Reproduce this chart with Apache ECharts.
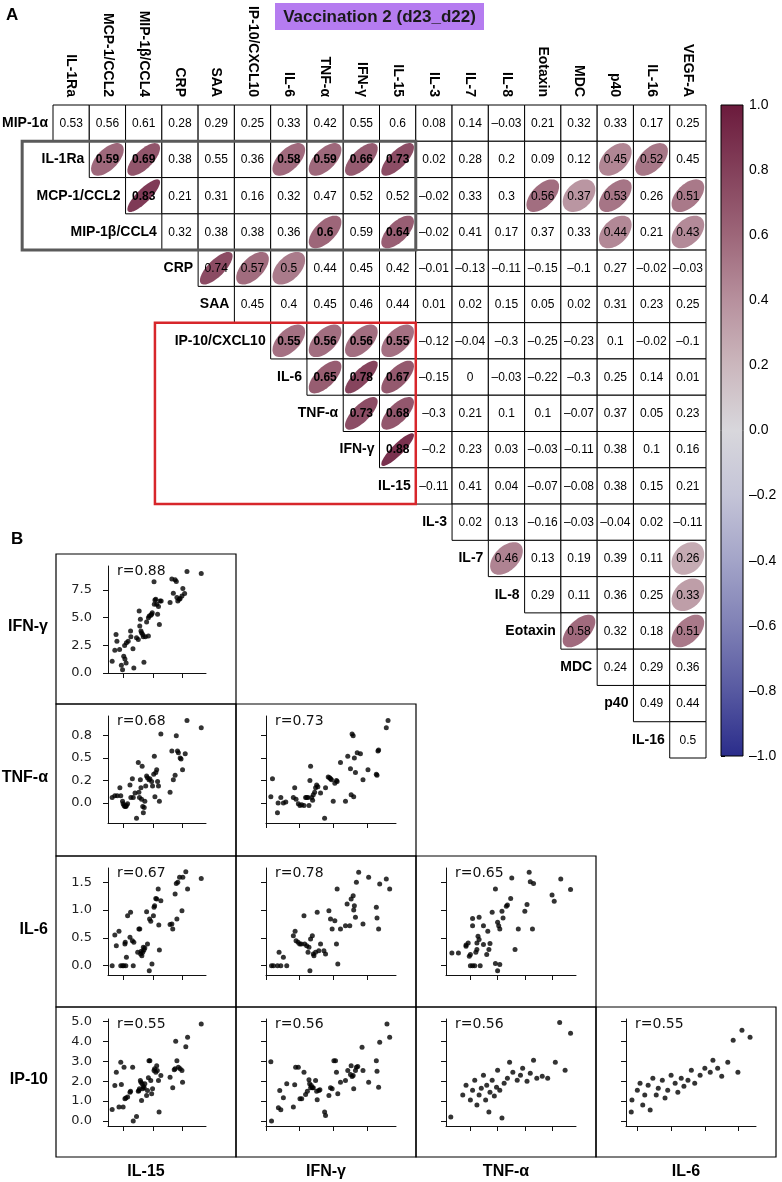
<!DOCTYPE html>
<html><head><meta charset="utf-8">
<script src="https://cdn.jsdelivr.net/npm/echarts@6/dist/echarts.min.js"></script>
<style>html,body{margin:0;padding:0;background:#fff}#c{width:782px;height:1182px}</style>
</head><body><div id="c"></div>
<script>
// ---------------- Panel A data ----------------
const rowLabels = ['MIP-1α','IL-1Ra','MCP-1/CCL2','MIP-1β/CCL4','CRP','SAA','IP-10/CXCL10','IL-6','TNF-α','IFN-γ','IL-15','IL-3','IL-7','IL-8','Eotaxin','MDC','p40','IL-16'];
const colLabels = ['IL-1Ra','MCP-1/CCL2','MIP-1β/CCL4','CRP','SAA','IP-10/CXCL10','IL-6','TNF-α','IFN-γ','IL-15','IL-3','IL-7','IL-8','Eotaxin','MDC','p40','IL-16','VEGF-A'];
const row_MIP1a   = [0.53,0.56,0.61,0.28,0.29,0.25,0.33,0.42,0.55,0.6,0.08,0.14,-0.03,0.21,0.32,0.33,0.17,0.25];
const row_IL1Ra   = [0.59,0.69,0.38,0.55,0.36,0.58,0.59,0.66,0.73,0.02,0.28,0.2,0.09,0.12,0.45,0.52,0.45];
const row_MCP1    = [0.83,0.21,0.31,0.16,0.32,0.47,0.52,0.52,-0.02,0.33,0.3,0.56,0.37,0.53,0.26,0.51];
const row_MIP1b   = [0.32,0.38,0.38,0.36,0.6,0.59,0.64,-0.02,0.41,0.17,0.37,0.33,0.44,0.21,0.43];
const row_CRP     = [0.74,0.57,0.5,0.44,0.45,0.42,-0.01,-0.13,-0.11,-0.15,-0.1,0.27,-0.02,-0.03];
const row_SAA     = [0.45,0.4,0.45,0.46,0.44,0.01,0.02,0.15,0.05,0.02,0.31,0.23,0.25];
const row_IP10    = [0.55,0.56,0.56,0.55,-0.12,-0.04,-0.3,-0.25,-0.23,0.1,-0.02,-0.1];
const row_IL6     = [0.65,0.78,0.67,-0.15,0,-0.03,-0.22,-0.3,0.25,0.14,0.01];
const row_TNF     = [0.73,0.68,-0.3,0.21,0.1,0.1,-0.07,0.37,0.05,0.23];
const row_IFN     = [0.88,-0.2,0.23,0.03,-0.03,-0.11,0.38,0.1,0.16];
const row_IL15    = [-0.11,0.41,0.04,-0.07,-0.08,0.38,0.15,0.21];
const row_IL3     = [0.02,0.13,-0.16,-0.03,-0.04,0.02,-0.11];
const row_IL7     = [0.46,0.13,0.19,0.39,0.11,0.26];
const row_IL8     = [0.29,0.11,0.36,0.25,0.33];
const row_Eotaxin = [0.58,0.32,0.18,0.51];
const row_MDC     = [0.24,0.29,0.36];
const row_p40     = [0.49,0.44];
const row_IL16    = [0.5];
const corrRows = [row_MIP1a,row_IL1Ra,row_MCP1,row_MIP1b,row_CRP,row_SAA,row_IP10,row_IL6,row_TNF,row_IFN,row_IL15,row_IL3,row_IL7,row_IL8,row_Eotaxin,row_MDC,row_p40,row_IL16];
// significant cells [row, col] drawn with an ellipse
const sigCells = [[1,1],[1,2],[1,6],[1,7],[1,8],[1,9],[1,15],[1,16],
  [2,2],[2,13],[2,14],[2,15],[2,17],
  [3,7],[3,9],[3,15],[3,17],
  [4,4],[4,5],[4,6],
  [6,6],[6,7],[6,8],[6,9],[7,7],[7,8],[7,9],[8,8],[8,9],[9,9],
  [12,12],[12,17],[13,17],[14,14],[14,17]];
// highlight boxes [colFrom,rowFrom,colTo,rowTo] in cell units
const boxGray = [-1.35,0.5,9.5,3.5];
const boxRed  = [2.31,5.5,9.5,10.5];
const colorbarStops = [[1.0,'#6b1a3c'],[0.8,'#83405a'],[0.6,'#9d6679'],[0.4,'#b7909d'],[0.2,'#cbb7bd'],[0.0,'#d8d7dc'],[-0.2,'#c4c4d7'],[-0.4,'#a3a4c8'],[-0.6,'#7f80b5'],[-0.8,'#5759a1'],[-1.0,'#2a2c8b']];

// ---------------- Panel B data ----------------
const ifn_vs_il15 = [[0.63,1.06],[0.72,2.06],[0.76,3.48],[0.79,2.87],[0.88,2.12],[0.94,0.70],[0.98,0.30],[1.02,1.51],[1.06,1.27],[1.05,2.48],[1.10,0.91],[1.11,2.72],[1.17,2.87],[1.25,3.78],[1.26,3.27],[1.33,2.18],[1.36,0.45],[1.45,3.18],[1.51,3.02],[1.54,5.59],[1.56,4.23],[1.58,4.84],[1.60,3.78],[1.62,3.63],[1.66,3.48],[1.68,3.27],[1.70,0.97],[1.75,3.27],[1.79,4.60],[1.85,3.33],[1.85,4.99],[1.88,5.14],[1.93,5.20],[1.96,5.29],[1.98,5.44],[2.04,8.22],[2.05,6.20],[2.07,6.59],[2.10,6.65],[2.13,6.20],[2.16,5.29],[2.19,5.99],[2.22,4.38],[2.24,6.50],[2.28,6.50],[2.58,6.35],[2.64,8.47],[2.69,7.20],[2.75,8.41],[2.79,8.26],[2.81,6.80],[2.84,6.50],[2.89,6.65],[2.92,6.71],[2.98,6.95],[3.01,7.62],[3.07,7.17],[3.15,9.16],[3.63,8.98]];
const tnf_vs_il15 = [[0.63,0.06],[0.72,0.08],[0.80,0.08],[0.89,0.17],[0.92,0.08],[0.98,0.02],[1.00,-0.01],[1.03,-0.03],[1.06,-0.04],[1.09,-0.04],[1.11,-0.03],[1.15,-0.01],[1.23,0.20],[1.26,0.06],[1.31,0.27],[1.34,0.06],[1.40,0.11],[1.45,-0.17],[1.51,0.45],[1.53,0.12],[1.55,0.06],[1.58,0.26],[1.60,0.17],[1.62,0.04],[1.64,0.41],[1.66,-0.04],[1.68,-0.11],[1.71,-0.05],[1.73,0.02],[1.76,0.19],[1.79,0.30],[1.82,0.28],[1.87,0.26],[1.90,0.27],[1.96,0.24],[1.99,0.19],[2.03,0.32],[2.05,0.52],[2.07,0.07],[2.10,0.34],[2.13,0.37],[2.16,0.24],[2.19,0.19],[2.22,0.02],[2.27,0.77],[2.58,0.12],[2.64,0.58],[2.69,0.26],[2.75,0.31],[2.79,0.75],[2.83,0.58],[2.86,0.56],[2.92,0.50],[2.95,0.49],[3.00,0.37],[3.09,0.55],[3.15,0.92],[3.63,0.84]];
const tnf_vs_ifn = [[0.36,0.07],[0.48,0.27],[0.85,-0.11],[0.90,0.00],[1.10,0.06],[1.29,0.00],[1.47,0.01],[2.03,0.06],[2.13,0.17],[2.23,0.04],[2.40,-0.01],[2.52,-0.03],[2.65,-0.02],[2.82,-0.03],[2.94,0.06],[3.02,0.06],[3.12,0.06],[3.19,-0.03],[3.26,0.25],[3.31,0.41],[3.39,0.06],[3.46,0.03],[3.51,0.09],[3.61,0.12],[3.68,0.17],[3.76,0.20],[3.85,0.18],[4.05,0.11],[4.35,-0.17],[4.42,0.17],[4.62,0.29],[4.72,0.28],[4.79,0.27],[4.86,0.26],[4.99,0.02],[5.11,0.22],[5.23,0.25],[5.28,0.24],[5.53,0.45],[5.90,0.02],[6.07,0.52],[6.27,0.38],[6.32,0.09],[6.39,0.77],[6.47,0.75],[6.51,0.07],[6.56,0.50],[6.64,0.34],[6.77,0.56],[7.01,0.55],[7.20,0.26],[7.57,0.37],[8.19,0.32],[8.24,0.31],[8.31,0.58],[8.36,0.59],[8.93,0.84],[9.06,0.92]];
const il6_vs_il15 = [[0.63,0],[0.72,0.55],[0.77,0.36],[0.86,0.62],[0.92,0],[0.98,0],[1.02,0],[1.06,0.39],[1.07,0.42],[1.09,0],[1.11,0.15],[1.15,0.90],[1.23,0.51],[1.25,0.96],[1.31,0.45],[1.34,0],[1.36,0.42],[1.49,0.24],[1.53,0.66],[1.56,0.66],[1.59,0.21],[1.61,0.26],[1.63,0.18],[1.66,0.24],[1.68,0.33],[1.70,0.28],[1.73,0.32],[1.79,0.97],[1.82,0.39],[1.88,-0.09],[1.89,0.84],[1.93,0.80],[1.97,0.03],[2.02,0.90],[2.04,1.05],[2.06,1.08],[2.10,1.21],[2.13,1.20],[2.18,1.38],[2.20,0.73],[2.22,0.28],[2.27,1.17],[2.58,0.74],[2.64,0.75],[2.67,0.66],[2.75,1.29],[2.79,1.48],[2.81,0.84],[2.84,1.50],[2.90,1.59],[2.98,0.99],[3.01,1.59],[3.11,1.69],[3.17,1.38],[3.63,1.57]];
const il6_vs_ifn = [[0.41,0],[0.55,0],[0.85,0],[0.97,0.24],[1.10,0],[1.29,0.15],[1.54,0],[2.03,0.54],[2.16,0.62],[2.23,0.45],[2.38,0.42],[2.50,0.39],[2.62,0.39],[2.82,0.90],[2.87,0.39],[3.02,0.36],[3.12,0.24],[3.19,0.33],[3.26,-0.09],[3.31,0.48],[3.44,0.54],[3.51,0.21],[3.56,0.18],[3.68,0.24],[3.80,0.96],[3.92,0.27],[4.05,0.39],[4.30,0.27],[4.42,0.21],[4.67,0.99],[4.79,0.84],[4.91,0.66],[5.11,0.81],[5.23,0.39],[5.28,1.38],[5.33,0.03],[5.53,0.66],[5.90,0.72],[6.02,1.11],[6.22,0.72],[6.32,1.20],[6.47,1.26],[6.51,1.00],[6.56,1.08],[6.64,0.87],[6.71,1.50],[6.88,1.68],[7.20,0.75],[7.62,1.59],[8.19,1.05],[8.24,0.86],[8.36,0.66],[8.44,1.47],[8.93,1.56],[9.18,1.38]];
const il6_vs_tnf = [[-0.17,0.23],[-0.11,0.23],[-0.04,0.35],[-0.04,0.37],[-0.02,0.41],[-0.01,0.17],[0,0.20],[0,0],[0.02,0],[0.02,0.85],[0.02,0.72],[0.04,0],[0.05,0.24],[0.06,0.29],[0.06,0.41],[0.07,0.53],[0.08,0.47],[0.08,0.87],[0.09,0],[0.12,0.38],[0.12,0.72],[0.16,0.62],[0.15,0.20],[0.17,0.29],[0.18,0.40],[0.20,0.96],[0.23,1.38],[0.23,0.04],[0.25,0.78],[0.26,0.72],[0.27,0.66],[0.27,0.02],[0.25,-0.09],[0.29,0.98],[0.30,0.86],[0.33,1.07],[0.34,1.09],[0.37,1.21],[0.38,1.58],[0.41,0.29],[0.44,0.66],[0.50,0.98],[0.52,1.10],[0.54,1.68],[0.55,1.51],[0.57,0.66],[0.58,1.48],[0.75,1.27],[0.77,1.16],[0.83,1.56],[0.92,1.37]];
const ip10_vs_il15 = [[0.63,0.58],[0.72,1.78],[0.77,2.45],[0.86,0.70],[0.92,2.95],[0.94,1.83],[1.00,0.70],[1.03,2.70],[1.06,1.12],[1.09,1.15],[1.15,1.20],[1.23,1.45],[1.25,1.50],[1.32,2.70],[1.34,0],[1.45,0.23],[1.51,1.50],[1.53,1.53],[1.55,1.62],[1.58,2.03],[1.60,1.95],[1.62,1.03],[1.64,1.87],[1.66,1.62],[1.68,1.73],[1.71,1.67],[1.73,1.87],[1.79,1.28],[1.82,1.53],[1.85,2.17],[1.87,3.03],[1.90,3.03],[1.93,2.03],[1.96,1.37],[1.99,1.62],[2.04,2.53],[2.06,2.62],[2.10,2.45],[2.13,2.78],[2.15,2.53],[2.19,2.03],[2.21,0.45],[2.27,2.28],[2.58,2.20],[2.67,1.67],[2.72,2.57],[2.75,2.62],[2.77,4.00],[2.81,3.03],[2.86,2.70],[2.92,2.62],[2.98,2.53],[3.00,1.95],[3.11,3.73],[3.17,4.20],[3.63,4.87]];
const ip10_vs_ifn = [[0.41,0],[0.36,2.98],[0.92,0.67],[1.02,1.53],[1.10,0.57],[1.29,1.17],[1.54,1.87],[2.03,0.70],[2.13,1.82],[2.20,2.70],[2.40,2.70],[2.52,1.12],[2.65,1.12],[2.82,2.45],[2.94,1.33],[3.07,1.50],[3.19,2.07],[3.24,1.87],[3.31,1.67],[3.36,1.78],[3.44,1.67],[3.51,1.67],[3.68,2.03],[3.76,1.50],[3.80,1.07],[3.92,1.53],[4.00,1.57],[4.35,0.45],[4.42,0.28],[4.67,1.28],[4.79,1.67],[4.91,1.62],[5.04,3.03],[5.16,3.03],[5.23,2.45],[5.33,1.37],[5.53,1.95],[5.90,2.03],[6.07,2.53],[6.27,2.33],[6.32,2.78],[6.39,2.23],[6.47,2.28],[6.51,1.62],[6.64,2.53],[6.71,2.70],[6.81,2.73],[7.13,3.70],[7.20,2.53],[7.62,1.95],[8.19,3.03],[8.24,2.50],[8.36,1.70],[8.44,3.95],[8.98,4.87],[9.18,4.20]];
const ip10_vs_tnf = [[-0.18,0.2],[-0.07,1.3],[-0.04,1.8],[0.0,1.05],[0.02,1.55],[0.04,2.05],[0.06,0.8],[0.08,1.3],[0.10,1.65],[0.12,2.3],[0.14,1.05],[0.15,1.8],[0.17,0.45],[0.18,1.45],[0.20,2.05],[0.22,1.25],[0.24,1.7],[0.25,2.55],[0.27,1.55],[0.29,0.15],[0.31,1.9],[0.34,2.15],[0.36,2.95],[0.39,2.45],[0.43,2.05],[0.46,2.3],[0.48,2.65],[0.52,2.0],[0.55,2.4],[0.58,3.05],[0.61,2.15],[0.66,2.25],[0.71,2.15],[0.78,2.95],[0.82,4.95],[0.87,2.55],[0.92,4.4]];
const ip10_vs_il6 = [[-0.09,0.45],[-0.08,1.05],[0.0,1.55],[0.04,1.9],[0.08,0.8],[0.11,1.3],[0.16,1.8],[0.19,0.55],[0.23,2.15],[0.28,1.3],[0.31,1.65],[0.37,2.05],[0.41,1.15],[0.45,1.55],[0.50,2.3],[0.56,1.9],[0.60,1.45],[0.65,2.15],[0.69,1.75],[0.75,2.05],[0.80,2.55],[0.85,1.9],[0.93,2.3],[1.00,2.65],[1.08,2.45],[1.12,3.05],[1.19,2.65],[1.25,2.25],[1.34,2.95],[1.42,4.05],[1.49,2.45],[1.55,4.55],[1.67,4.2]];
const bColLabels = ['IL-15','IFN-γ','TNF-α','IL-6'];
const bRowLabels = ['IFN-γ','TNF-α','IL-6','IP-10'];
const rLabels = ['r=0.88','r=0.68','r=0.73','r=0.67','r=0.78','r=0.65','r=0.55','r=0.56','r=0.56','r=0.55'];
const tick_IL15 = [1,2,3];
const tick_IFN = [0,2.5,5,7.5];   const lab_IFN = ['0.0','2.5','5.0','7.5'];
const tick_TNF = [0,0.25,0.5,0.75]; const lab_TNF = ['0.0','0.2','0.5','0.8'];
const tick_IL6 = [0,0.5,1,1.5];   const lab_IL6 = ['0.0','0.5','1.0','1.5'];
const tick_IP10 = [0,1,2,3,4,5];  const lab_IP10 = ['0.0','1.0','2.0','3.0','4.0','5.0'];

// ---------------- helpers ----------------
function hex2rgb(h){return [parseInt(h.substr(1,2),16),parseInt(h.substr(3,2),16),parseInt(h.substr(5,2),16)];}
function corrColor(v){
  const s = colorbarStops;
  for (let i=0;i<s.length-1;i++){
    const a=s[i], b=s[i+1];
    if (v<=a[0] && v>=b[0]){
      const t=(a[0]-v)/(a[0]-b[0]); const ca=hex2rgb(a[1]), cb=hex2rgb(b[1]);
      return 'rgb('+ca.map((x,k)=>Math.round(x+(cb[k]-x)*t)).join(',')+')';
    }
  }
  return s[0][1];
}
const fmtCell = v => v<0 ? '\u2013'+(-v) : ''+v;
function inBox(b,col,row){return col>=b[0] && col<=b[2] && row>=b[1] && row<=b[3];}
const cellData = [];
corrRows.forEach((vals,i)=>{
  vals.forEach((v,k)=>{
    const col=i+k;
    const sig = sigCells.some(s=>s[0]===i && s[1]===col) ? 1 : 0;
    const bold = sig && (inBox(boxGray,col,i) || inBox(boxRed,col,i)) ? 1 : 0;
    cellData.push([col,i,v,sig,bold]);
  });
});
const FONT_A = '"Liberation Sans", Arial, Helvetica, sans-serif';
const FONT_B = '"DejaVu Sans", Verdana, sans-serif';

const grids = [], xAxes = [], yAxes = [], series = [], graphics = [];
// grid 0: matrix
grids.push({left:53, top:105, width:653, height:653, outerBoundsMode:'none'});
xAxes.push({gridIndex:0, type:'value', min:-0.5, max:17.5, show:false});            // x0
xAxes.push({gridIndex:0, type:'category', data:colLabels, position:'top',            // x1
  axisLine:{show:false}, axisTick:{show:false}, splitLine:{show:false},
  axisLabel:{interval:0, rotate:90, fontSize:14, fontWeight:'bold', color:'#000', fontFamily:FONT_A, margin:8}});
yAxes.push({gridIndex:0, type:'value', min:-0.5, max:17.5, inverse:true, show:false}); // y0
// grid 1: colorbar
grids.push({left:721, top:105, width:22, height:651, outerBoundsMode:'none'});
xAxes.push({gridIndex:1, type:'value', min:0, max:1, show:false});                   // x2
yAxes.push({gridIndex:1, type:'value', min:-1, max:1, interval:0.2, position:'right', // y1
  axisLine:{show:false}, splitLine:{show:false},
  axisTick:{show:true, length:4, lineStyle:{color:'#000', width:1}},
  axisLabel:{fontSize:14, color:'#000', fontFamily:FONT_A, margin:6,
    formatter:v=>{ if(Math.abs(v)<1e-9) return '0.0'; const s=Math.abs(v).toFixed(1); return v<0?'\u2013'+s:s; }}});

series.push({type:'custom', xAxisIndex:0, yAxisIndex:0, data:cellData, silent:true, z:2,
  renderItem:(p,api)=>{
    const col=api.value(0), row=api.value(1), v=api.value(2), sig=api.value(3), bold=api.value(4);
    const c=api.coord([col,row]), s=api.size([1,1]); const w=s[0], h=s[1];
    const ch=[{type:'rect', shape:{x:c[0]-w/2, y:c[1]-h/2, width:w, height:h}, style:{fill:'#fff', stroke:'#000', lineWidth:1}}];
    if (sig){
      const d=Math.acos(v), k=0.45, pts=[];
      for(let n=0;n<60;n++){const t=2*Math.PI*n/60; pts.push([c[0]+Math.cos(t+d/2)*w*k, c[1]-Math.cos(t-d/2)*h*k]);}
      ch.push({type:'polygon', shape:{points:pts}, style:{fill:corrColor(v)}});
    }
    ch.push({type:'text', style:{text:fmtCell(v), x:c[0], y:c[1]+0.5, align:'center', verticalAlign:'middle',
      fontSize:12, fontWeight:bold?'bold':'normal', fontFamily:FONT_A, fill:'#000'}});
    return {type:'group', children:ch};
  }});
// row labels
series.push({type:'custom', xAxisIndex:0, yAxisIndex:0, data:rowLabels.map((l,i)=>[i-0.5,i,i]), silent:true, z:3,
  renderItem:(p,api)=>{
    const c=api.coord([api.value(0),api.value(1)]);
    return {type:'text', style:{text:rowLabels[api.value(2)], x:c[0]-5, y:c[1], align:'right', verticalAlign:'middle',
      fontSize:14, fontWeight:'bold', fontFamily:FONT_A, fill:'#000'}};
  }});
// highlight boxes
series.push({type:'custom', xAxisIndex:0, yAxisIndex:0, data:[boxGray.concat([0]), boxRed.concat([1])], silent:true, z:5,
  renderItem:(p,api)=>{
    const a=api.coord([api.value(0),api.value(1)]), b=api.coord([api.value(2),api.value(3)]);
    const red=api.value(4)===1;
    return {type:'rect', shape:{x:a[0], y:a[1], width:b[0]-a[0], height:b[1]-a[1]},
      style:{fill:'none', stroke:red?'#d7262b':'#5a5a5a', lineWidth:red?2.5:3}};
  }});
// colorbar
series.push({type:'custom', xAxisIndex:2, yAxisIndex:1, data:[[0,1,1,-1]], silent:true,
  renderItem:(p,api)=>{
    const a=api.coord([api.value(0),api.value(1)]), b=api.coord([api.value(2),api.value(3)]);
    const stops=colorbarStops.map(s=>({offset:(1-s[0])/2, color:s[1]}));
    return {type:'rect', shape:{x:a[0], y:a[1], width:b[0]-a[0], height:b[1]-a[1]},
      style:{fill:new echarts.graphic.LinearGradient(0,0,0,1,stops), stroke:'#000', lineWidth:1}};
  }});

// ---------------- Panel B ----------------
const varDefs = {
  IL15:{min:0.49, max:3.79, ticks:tick_IL15, labels:null},
  IFN:{min:0, max:9.65, ticks:tick_IFN, labels:lab_IFN},
  TNF:{min:-0.224, max:0.97, ticks:tick_TNF, labels:lab_TNF},
  IL6:{min:-0.168, max:1.758, ticks:tick_IL6, labels:lab_IL6},
  IP10:{min:-0.25, max:5.12, ticks:tick_IP10, labels:lab_IP10}
};
const bX = ['IL15','IFN','TNF','IL6'], bY = ['IFN','TNF','IL6','IP10'];
const plots = [
  [0,0,ifn_vs_il15],[1,0,tnf_vs_il15],[1,1,tnf_vs_ifn],
  [2,0,il6_vs_il15],[2,1,il6_vs_ifn],[2,2,il6_vs_tnf],
  [3,0,ip10_vs_il15],[3,1,ip10_vs_ifn],[3,2,ip10_vs_tnf],[3,3,ip10_vs_il6]
];
const colLefts = [56,236,416,596,776];
const rowTops = [554,704,856,1007,1157];
const axisCol = '#111';
plots.forEach((pl,k)=>{
  const r=pl[0], c=pl[1];
  const gl = c===0 ? colLefts[c]+52 : colLefts[c]+30;
  const gw = c===0 ? 98 : 130;
  const gt = rowTops[r]+12, gh = 107;
  const gi = grids.length;
  grids.push({left:gl, top:gt, width:gw, height:gh, outerBoundsMode:'none'});
  const xv = varDefs[bX[c]], yv = varDefs[bY[r]];
  const xi = xAxes.length, yi = yAxes.length;
  xAxes.push({gridIndex:gi, type:'value', min:xv.min, max:xv.max,
    axisLine:{show:true, onZero:false, lineStyle:{color:axisCol, width:1}},
    axisTick:{show:true, customValues:xv.ticks, length:5, lineStyle:{color:axisCol, width:1}},
    axisLabel:{show:false}, splitLine:{show:false}});
  yAxes.push({gridIndex:gi, type:'value', min:yv.min, max:yv.max,
    axisLine:{show:true, onZero:false, lineStyle:{color:axisCol, width:1}},
    axisTick:{show:true, customValues:yv.ticks, length:5, lineStyle:{color:axisCol, width:1}},
    axisLabel:{show:c===0, customValues:yv.ticks, fontSize:13, color:'#222', fontFamily:FONT_B, margin:16,
      formatter:v=>{let best=0; yv.ticks.forEach((t,j)=>{if(Math.abs(t-v)<Math.abs(yv.ticks[best]-v)) best=j;}); return yv.labels[best];}},
    splitLine:{show:false}});
  series.push({type:'scatter', xAxisIndex:xi, yAxisIndex:yi, data:pl[2], symbolSize:5, silent:true,
    itemStyle:{color:'#000'}});
  graphics.push({type:'rect', shape:{x:colLefts[c], y:rowTops[r], width:180, height:rowTops[r+1]-rowTops[r]},
    style:{fill:'none', stroke:'#000', lineWidth:1.2}, z:10});
  graphics.push({type:'text', x:gl+9, y:gt-2, style:{text:rLabels[k], fontSize:14, fontFamily:FONT_B, fill:'#111', align:'left', verticalAlign:'top'}});
});
bRowLabels.forEach((l,r)=>{
  graphics.push({type:'text', x:48, y:(rowTops[r]+rowTops[r+1])/2-2, style:{text:l, fontSize:16, fontWeight:'bold', fontFamily:FONT_A, fill:'#000', align:'right', verticalAlign:'middle'}});
});
bColLabels.forEach((l,c)=>{
  graphics.push({type:'text', x:colLefts[c]+90, y:1172, style:{text:l, fontSize:16, fontWeight:'bold', fontFamily:FONT_A, fill:'#000', align:'center', verticalAlign:'middle'}});
});
graphics.push({type:'text', x:6, y:7, style:{text:'A', fontSize:17, fontWeight:'bold', fontFamily:FONT_A, fill:'#000'}});
graphics.push({type:'text', x:11, y:531, style:{text:'B', fontSize:17, fontWeight:'bold', fontFamily:FONT_A, fill:'#000'}});
graphics.push({type:'rect', shape:{x:275, y:3, width:209, height:27}, style:{fill:'#b57cf0'}});
graphics.push({type:'text', x:379.5, y:17, style:{text:'Vaccination 2 (d23_d22)', fontSize:17, fontWeight:'bold', fontFamily:FONT_A, fill:'#1a1a1a', align:'center', verticalAlign:'middle'}});

const chart = echarts.init(document.getElementById('c'), null, {renderer:'canvas'});
chart.setOption({animation:false, backgroundColor:'#fff', grid:grids, xAxis:xAxes, yAxis:yAxes, series:series, graphic:graphics});
</script></body></html>
